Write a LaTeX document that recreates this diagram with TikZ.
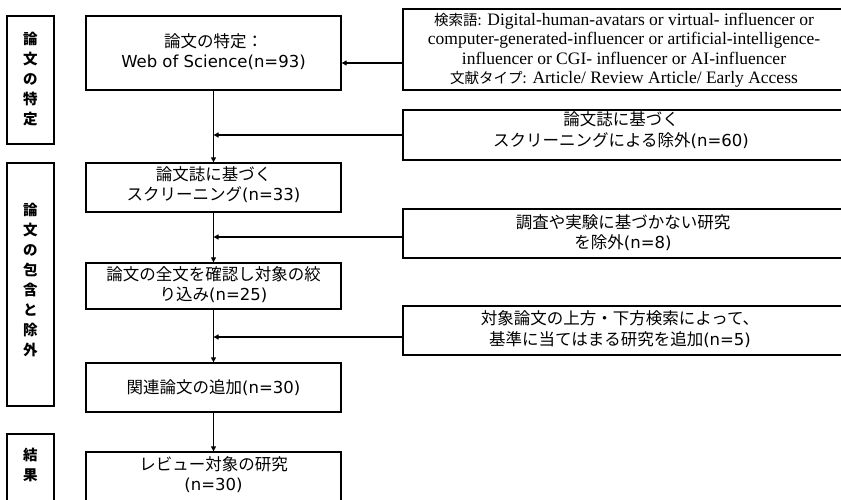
\documentclass[tikz,border=0pt]{standalone}
\usepackage{fontspec}
\setmainfont{Liberation Serif}
\newfontfamily\cjk{Noto Sans CJK JP}
\newfontfamily\dvs{DejaVu Sans}
\usetikzlibrary{arrows.meta}
\newcommand\jtx[1]{{\cjk #1}}
\newcommand\jsm[1]{{\cjk\fontsize{14.5}{19.5}\selectfont #1}}
\begin{document}
\begin{tikzpicture}[x=1pt,y=-1pt,
  box/.style={draw=black, line width=1.3pt, rectangle, inner sep=0pt},
  mtxt/.style={align=center, inner sep=0pt, font=\dvs\fontsize{16.5}{20}\selectfont},
  rtxt/.style={align=center, inner sep=0pt, font=\dvs\fontsize{16.5}{21.5}\selectfont},
  stxt/.style={align=center, inner sep=0pt, font=\fontsize{17.5}{19.5}\selectfont},
  ltxt/.style={align=center, inner sep=0pt, font=\cjk\bfseries\fontsize{14.5}{20}\selectfont},
  arr/.style={draw=black, line width=1.3pt, -{Triangle[length=5pt,width=5pt]}}]
\clip (0,0) rectangle (841,499);
\fill[white] (0,0) rectangle (841,499);
% left labels
\node[box, minimum width=47, minimum height=128] (L1) at (30.5,80) {};
\node[ltxt] (L1t) at (30.5,79.5) {論\\文\\の\\特\\定};
\node[box, minimum width=47, minimum height=243] (L2) at (30.5,284.5) {};
\node[ltxt] (L2t) at (30.5,279.5) {論\\文\\の\\包\\含\\と\\除\\外};
\node[box, minimum width=47, minimum height=80] (L3) at (30.5,474) {};
\node[ltxt] (L3t) at (30.5,465) {結\\果};
% main boxes
\node[box, minimum width=255, minimum height=74] (A) at (213.5,53) {};
\node[mtxt] (At) at (213.5,52) {\jtx{論文の特定：}\\Web of Science(n=93)};
\node[box, minimum width=255, minimum height=49] (B) at (213.5,187.5) {};
\node[mtxt] (Bt) at (213.5,185) {\jtx{論文誌に基づく}\\\jtx{スクリーニング}(n=33)};
\node[box, minimum width=255, minimum height=46] (C) at (213.5,286) {};
\node[mtxt] (Ct) at (213.5,285) {\jtx{論文の全文を確認し対象の絞}\\\jtx{り込み}(n=25)};
\node[box, minimum width=255, minimum height=49] (D) at (213.5,387.5) {};
\node[mtxt] (Dt) at (213.5,388) {\jtx{関連論文の追加}(n=30)};
\node[box, minimum width=255, minimum height=50] (E) at (213.5,477) {};
\node[mtxt] (Et) at (213.5,475) {\jtx{レビュー対象の研究}\\(n=30)};
% right boxes
\node[box, minimum width=447, minimum height=81] (R1) at (626.5,49.5) {};
\node[stxt] (R1t) at (624,50) {\jsm{検索語:} Digital-human-avatars or virtual- influencer or\\computer-generated-influencer or artificial-intelligence-\\influencer or CGI- influencer or AI-influencer\\\jsm{文献タイプ:} Article/ Review Article/ Early Access};
\node[box, minimum width=447, minimum height=50] (R2) at (626.5,135) {};
\node[rtxt] (R2t) at (621,130) {\jtx{論文誌に基づく}\\\jtx{スクリーニングによる除外}(n=60)};
\node[box, minimum width=447, minimum height=49] (R3) at (626.5,233.5) {};
\node[mtxt] (R3t) at (623,233) {\jtx{調査や実験に基づかない研究}\\\jtx{を除外}(n=8)};
\node[box, minimum width=447, minimum height=49] (R4) at (626.5,330.5) {};
\node[rtxt] (R4t) at (620,329) {\jtx{対象論文の上方・下方検索によって、}\\\jtx{基準に当てはまる研究を追加}(n=5)};
% connectors
\draw[arr] (R1.west |- 0,63) -- (A.east |- 0,63);
\draw[arr] (A.south) -- (B.north);
\draw[arr] (B.south) -- (C.north);
\draw[arr] (C.south) -- (D.north);
\draw[arr] (D.south) -- (E.north);
\draw[arr] (R2.west) -- (R2.west -| A.south);
\draw[arr] (R3.west |- 0,237) -- (A.south |- 0,237);
\draw[arr] (R4.west |- 0,337) -- (A.south |- 0,337);
\end{tikzpicture}
\end{document}
